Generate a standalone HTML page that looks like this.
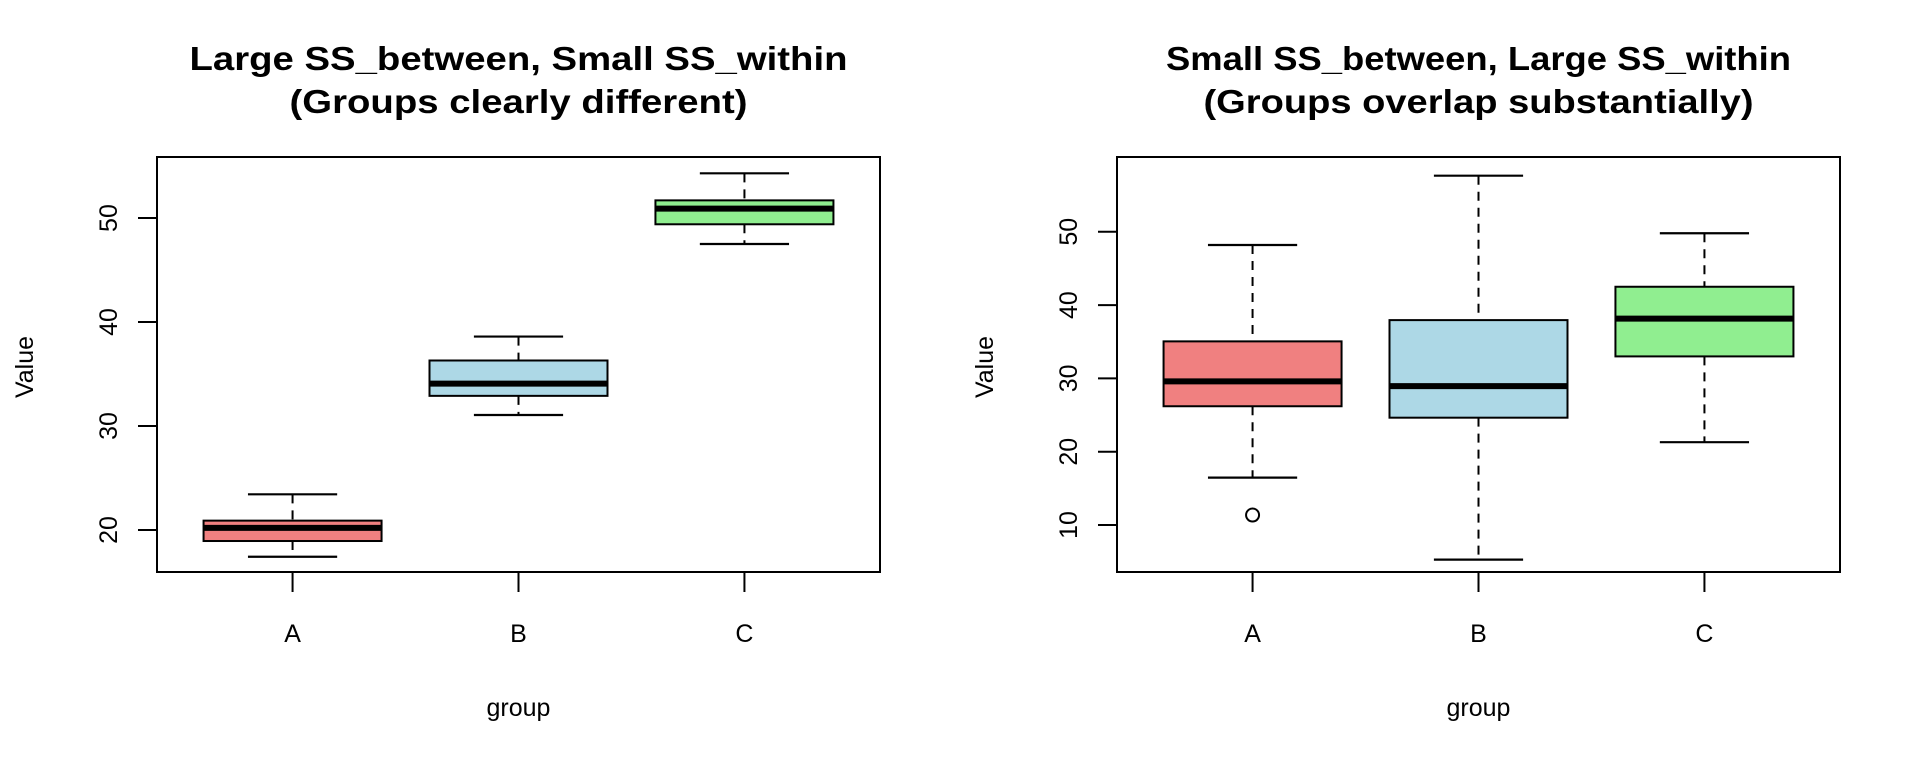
<!DOCTYPE html>
<html><head><meta charset="utf-8"><style>
html,body{margin:0;padding:0;background:#fff;}
svg{display:block;font-family:"Liberation Sans",Arial,sans-serif;}
</style></head><body>
<svg id="c" width="1920" height="768" viewBox="0 0 1920 768"></svg>
<script>
const categories = ["A","B","C"];
const colors = ["#F08080","#ADD8E6","#90EE90"];
// panel 1 stats
const p1Low = [17.43, 31.06, 47.5];
const p1Q1 = [18.94, 32.9, 49.4];
const p1Med = [20.2, 34.07, 50.9];
const p1Q3 = [20.9, 36.3, 51.7];
const p1High = [23.43, 38.6, 54.3];
const p1Outliers = [[], [], []];
const p1Ticks = [20, 30, 40, 50];
// panel 2 stats
const p2Low = [16.46, 5.28, 21.3];
const p2Q1 = [26.2, 24.64, 33.0];
const p2Med = [29.6, 28.95, 38.15];
const p2Q3 = [35.05, 37.95, 42.5];
const p2High = [48.2, 57.65, 49.8];
const p2Outliers = [[11.36], [], []];
const p2Ticks = [10, 20, 30, 40, 50];

const NS = "http://www.w3.org/2000/svg";
const svg = document.getElementById("c");
function mk(tag, attrs, parent, name) {
  const e = document.createElementNS(NS, tag);
  for (const k in attrs) e.setAttribute(k, attrs[k]);
  
  
  (parent || svg).appendChild(e);
  return e;
}
function panel(ox, yMin, yMax, low, q1, med, q3, high, outs, ticks, t1, t2, t1len, t2len, pname) {
  const L = 157 + ox, R = 880 + ox, T = 157, B = 572;
  const g = mk("g", {}, svg, pname);
  const y = v => B - (v - yMin) / (yMax - yMin) * (B - T);
  const X = i => L + (R - L) * ((i + 1) - 0.4) / 3.2;
  for (let i = 0; i < categories.length; i++) {
    const cx = X(i);
    const hw = 89, cw = 44.6;
    const bg = mk("g", {}, g, "box-" + categories[i].toLowerCase());
    mk("line", {x1: cx, x2: cx, y1: y(high[i]), y2: y(q3[i]), stroke: "#000", "stroke-width": 2, "stroke-dasharray": "9,7"}, bg, "upper-whisker");
    mk("line", {x1: cx, x2: cx, y1: y(q1[i]), y2: y(low[i]), stroke: "#000", "stroke-width": 2, "stroke-dasharray": "9,7"}, bg, "lower-whisker");
    mk("line", {x1: cx - cw, x2: cx + cw, y1: y(high[i]), y2: y(high[i]), stroke: "#000", "stroke-width": 2.2}, bg, "upper-cap");
    mk("line", {x1: cx - cw, x2: cx + cw, y1: y(low[i]), y2: y(low[i]), stroke: "#000", "stroke-width": 2.2}, bg, "lower-cap");
    mk("rect", {x: cx - hw, y: y(q3[i]), width: 2 * hw, height: y(q1[i]) - y(q3[i]), fill: colors[i], stroke: "#000", "stroke-width": 2}, bg, "iqr-box");
    mk("line", {x1: cx - hw, x2: cx + hw, y1: y(med[i]), y2: y(med[i]), stroke: "#000", "stroke-width": 6}, bg, "median-line");
    for (const o of outs[i]) mk("circle", {cx: cx, cy: y(o), r: 6.5, fill: "none", stroke: "#000", "stroke-width": 2}, bg, "outlier-point");
    mk("line", {x1: cx, x2: cx, y1: B, y2: B + 20, stroke: "#000", "stroke-width": 2}, g, "x-tick");
    const tl = mk("text", {x: cx, y: 642, "font-size": 25, "text-anchor": "middle"}, g, "x-tick-label");
    tl.textContent = categories[i];
  }
  mk("rect", {x: L, y: T, width: R - L, height: B - T, fill: "none", stroke: "#000", "stroke-width": 2}, g, "plot-frame");
  for (const t of ticks) {
    mk("line", {x1: L - 19, x2: L, y1: y(t), y2: y(t), stroke: "#000", "stroke-width": 2}, g, "y-tick");
    const tt = mk("text", {x: 0, y: 0, "font-size": 25, "text-anchor": "middle", transform: `translate(${ox + 117},${y(t)}) rotate(-90)`}, g, "y-tick-label");
    tt.textContent = t;
  }
  mk("line", {x1: L, x2: L, y1: y(ticks[0]), y2: y(ticks[ticks.length-1]), stroke: "#000", "stroke-width": 2}, g, "y-axis-line");
  const yl = mk("text", {x: 0, y: 0, "font-size": 25, "text-anchor": "middle", transform: `translate(${ox + 33},367) rotate(-90)`}, g, "y-axis-title");
  yl.textContent = "Value";
  const xl = mk("text", {x: (L + R) / 2, y: 716, "font-size": 25, "text-anchor": "middle"}, g, "x-axis-title");
  xl.textContent = "group";
  const a = mk("text", {x: (L + R) / 2, y: 70, "font-size": 33, "font-weight": "bold", "text-anchor": "middle", textLength: t1len, lengthAdjust: "spacingAndGlyphs"}, g, "chart-title");
  a.textContent = t1;
  const b = mk("text", {x: (L + R) / 2, y: 113, "font-size": 33, "font-weight": "bold", "text-anchor": "middle", textLength: t2len, lengthAdjust: "spacingAndGlyphs"}, g, "chart-subtitle");
  b.textContent = t2;
}
panel(0, 15.96, 55.87, p1Low, p1Q1, p1Med, p1Q3, p1High, p1Outliers, p1Ticks,
  "Large SS_between, Small SS_within", "(Groups clearly different)", 658, 458, "panel-left");
panel(960, 3.59, 60.2, p2Low, p2Q1, p2Med, p2Q3, p2High, p2Outliers, p2Ticks,
  "Small SS_between, Large SS_within", "(Groups overlap substantially)", 625, 550, "panel-right");
</script>
</body></html>
